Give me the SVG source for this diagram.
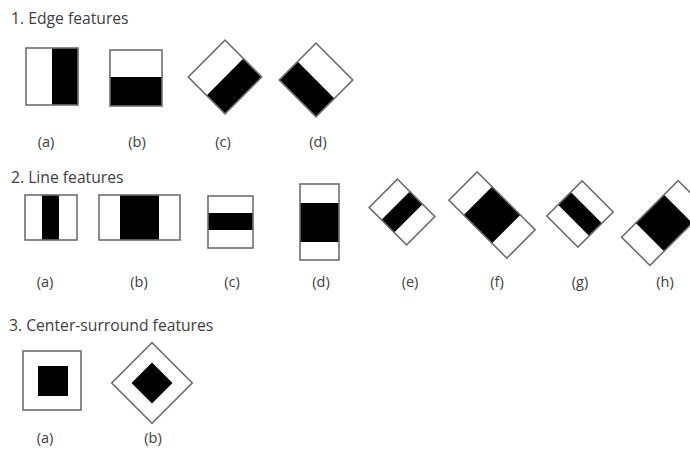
<svg xmlns="http://www.w3.org/2000/svg" width="690" height="450" viewBox="0 0 690 450">
<style>
.bg{fill:#ffffff}
.w{fill:#ffffff}
.k{fill:#000000}
.o{fill:none;stroke:#6e6e6e;stroke-width:1.6}
.t{font-family:"Open Sans","Liberation Sans",sans-serif;font-size:15.7px;fill:#404040}
.l{font-family:"Open Sans","Liberation Sans",sans-serif;font-size:14.5px;fill:#404040;text-anchor:middle}
</style>
<rect class="bg" x="0" y="0" width="690" height="450"/>

<g id="edge-features">
  <text class="t" x="11" y="24">1. Edge features</text>
  <g id="edge-a">
    <rect class="w" x="26" y="48" width="52" height="57"/>
    <rect class="k" x="52" y="48" width="26" height="57"/>
    <rect class="o" x="26" y="48" width="52" height="57"/>
    <text class="l" x="46" y="147">(a)</text>
  </g>
  <g id="edge-b">
    <rect class="w" x="110" y="50" width="52" height="56"/>
    <rect class="k" x="110" y="77" width="52" height="29"/>
    <rect class="o" x="110" y="50" width="52" height="56"/>
    <text class="l" x="137" y="147">(b)</text>
  </g>
  <g id="edge-c">
    <g transform="translate(225,77) rotate(45)">
      <rect class="w" x="-26" y="-26" width="52" height="52"/>
      <rect class="k" x="0" y="-26" width="26" height="52"/>
      <rect class="o" x="-26" y="-26" width="52" height="52"/>
    </g>
    <text class="l" x="223" y="147">(c)</text>
  </g>
  <g id="edge-d">
    <g transform="translate(316,80) rotate(45)">
      <rect class="w" x="-26" y="-26" width="52" height="52"/>
      <rect class="k" x="-26" y="0" width="52" height="26"/>
      <rect class="o" x="-26" y="-26" width="52" height="52"/>
    </g>
    <text class="l" x="318" y="147">(d)</text>
  </g>
</g>

<g id="line-features">
  <text class="t" x="11" y="183">2. Line features</text>
  <g id="line-a">
    <rect class="w" x="25" y="195" width="52" height="45"/>
    <rect class="k" x="42" y="195" width="17" height="45"/>
    <rect class="o" x="25" y="195" width="52" height="45"/>
    <text class="l" x="45" y="287">(a)</text>
  </g>
  <g id="line-b">
    <rect class="w" x="99" y="195" width="81" height="45"/>
    <rect class="k" x="120" y="195" width="39" height="45"/>
    <rect class="o" x="99" y="195" width="81" height="45"/>
    <text class="l" x="139" y="287">(b)</text>
  </g>
  <g id="line-c">
    <rect class="w" x="208" y="196" width="45" height="52"/>
    <rect class="k" x="208" y="213" width="45" height="17"/>
    <rect class="o" x="208" y="196" width="45" height="52"/>
    <text class="l" x="232" y="287">(c)</text>
  </g>
  <g id="line-d">
    <rect class="w" x="300" y="184" width="39" height="76"/>
    <rect class="k" x="300" y="203" width="39" height="39"/>
    <rect class="o" x="300" y="184" width="39" height="76"/>
    <text class="l" x="321" y="287">(d)</text>
  </g>
  <g id="line-e">
    <g transform="translate(402,212) rotate(-45)">
      <rect class="w" x="-20" y="-26.5" width="40" height="53"/>
      <rect class="k" x="-20" y="-9" width="40" height="18"/>
      <rect class="o" x="-20" y="-26.5" width="40" height="53"/>
    </g>
    <text class="l" x="410" y="287">(e)</text>
  </g>
  <g id="line-f">
    <g transform="translate(492,215) rotate(-45)">
      <rect class="w" x="-20" y="-41" width="40" height="82"/>
      <rect class="k" x="-20" y="-20" width="40" height="40"/>
      <rect class="o" x="-20" y="-41" width="40" height="82"/>
    </g>
    <text class="l" x="497" y="287">(f)</text>
  </g>
  <g id="line-g">
    <g transform="translate(580,214) rotate(45)">
      <rect class="w" x="-22" y="-25" width="44" height="50"/>
      <rect class="k" x="-22" y="-9" width="44" height="18"/>
      <rect class="o" x="-22" y="-25" width="44" height="50"/>
    </g>
    <text class="l" x="580" y="287">(g)</text>
  </g>
  <g id="line-h">
    <g transform="translate(664,223) rotate(45)">
      <rect class="w" x="-20" y="-40" width="40" height="80"/>
      <rect class="k" x="-20" y="-20" width="40" height="40"/>
      <rect class="o" x="-20" y="-40" width="40" height="80"/>
    </g>
    <text class="l" x="665" y="287">(h)</text>
  </g>
</g>

<g id="center-surround-features">
  <text class="t" x="9" y="331">3. Center-surround features</text>
  <g id="cs-a">
    <rect class="w" x="23" y="351" width="58" height="59"/>
    <rect class="k" x="38" y="366" width="30" height="30"/>
    <rect class="o" x="23" y="351" width="58" height="59"/>
    <text class="l" x="45" y="443">(a)</text>
  </g>
  <g id="cs-b">
    <g transform="translate(152,383) rotate(45)">
      <rect class="w" x="-28.5" y="-28.5" width="57" height="57"/>
      <rect class="k" x="-14.5" y="-14.5" width="29" height="29"/>
      <rect class="o" x="-28.5" y="-28.5" width="57" height="57"/>
    </g>
    <text class="l" x="153" y="443">(b)</text>
  </g>
</g>

<g id="connectors"></g>
</svg>
